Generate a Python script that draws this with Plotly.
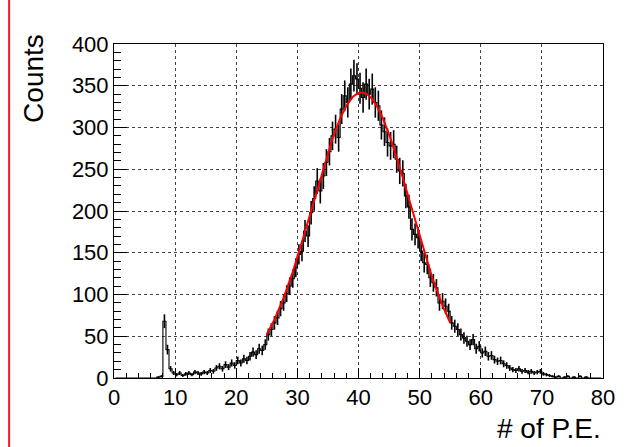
import plotly.graph_objects as go
import numpy as np

# Histogram: bin width 0.5, bins from 0 to 80 (centers)
bin_width = 0.5
bin_centers = [0.25 + 0.5 * i for i in range(160)]
counts = (
    [0] * 14 + [1, 2,                                  # 0.25 .. 7.75
     68, 34, 11, 6, 4, 6, 3, 5, 6, 4, 7, 6, 5, 7,      # 8.25 .. 14.75
     6, 9, 8, 12, 14, 11, 16, 13, 18, 15,              # 15.25 .. 19.75
     21, 18, 23, 21, 26, 31, 28, 35, 33, 40,           # 20.25 .. 24.75
     52, 58, 66, 72, 83, 90, 101, 110, 119, 132,       # 25.25 .. 29.75
     148, 152, 176, 170, 198, 215, 236, 224, 242, 258, # 30.25 .. 34.75
     271, 290, 298, 288, 322, 338, 330, 352, 362, 358, # 35.25 .. 39.75
     347, 336, 352, 340, 346, 330, 326, 303, 295, 282, # 40.25 .. 44.75
     278, 280, 262, 248, 245, 218, 205, 178, 172, 168, # 45.25 .. 49.75
     152, 138, 136, 120, 114, 108, 90, 92, 86, 80,     # 50.25 .. 54.75
     66, 62, 58, 52, 48, 44, 40, 46, 35, 38,           # 55.25 .. 59.75
     30, 32, 26, 27, 22, 20, 21, 17, 15, 12,           # 60.25 .. 64.75
     10, 9, 11, 8, 9, 7, 8, 6, 7, 8,                   # 65.25 .. 69.75
     5, 4, 3, 2, 1, 2, 0, 1, 2, 0,                     # 70.25 .. 74.75
     1, 0, 2, 0, 1, 0, 0, 0, 0, 0]                     # 75.25 .. 79.75
)
errors = [float(np.sqrt(c)) for c in counts]

# Gaussian fit parameters
fit_amp = 342.0
fit_mean = 40.5
fit_sigma = 8.0
fit_range = [25.0, 55.0]

x_ticks = [0, 10, 20, 30, 40, 50, 60, 70, 80]
y_ticks = [0, 50, 100, 150, 200, 250, 300, 350, 400]

x_title = "# of P.E."
y_title = "Counts"

fx = np.linspace(fit_range[0], fit_range[1], 300)
fy = fit_amp * np.exp(-(fx - fit_mean) ** 2 / (2 * fit_sigma ** 2))

FONT = "Liberation Sans, Arial, Helvetica, sans-serif"

fig = go.Figure()
fig.add_trace(go.Scatter(
    x=bin_centers, y=counts, mode="lines", line=dict(color="black", width=1.1, shape="hvh"),
    error_y=dict(type="data", array=errors, visible=True, color="black", thickness=1.6, width=0),
    showlegend=False, hoverinfo="x+y"))
fig.add_trace(go.Scatter(
    x=fx, y=fy, mode="lines", line=dict(color="#ff0000", width=2),
    showlegend=False))

fig.update_layout(
    width=629, height=447,
    margin=dict(l=114, r=26, t=44, b=69),
    paper_bgcolor="white", plot_bgcolor="white",
    font=dict(family=FONT, size=22, color="black"),
    xaxis=dict(range=[0, 80], tickvals=x_ticks, ticks="inside", ticklen=10, tickwidth=1,
               tickcolor="black", showline=True, linecolor="black", linewidth=1, mirror=True,
               showgrid=True, gridcolor="#444444", griddash="dot", gridwidth=1,
               zeroline=False, tickfont=dict(size=22),
               minor=dict(dtick=2, ticks="inside", ticklen=5, tickcolor="black", showgrid=False)),
    yaxis=dict(range=[0, 400], tickvals=y_ticks, ticks="inside", ticklen=13, tickwidth=1,
               tickcolor="black", showline=True, linecolor="black", linewidth=1, mirror=True,
               showgrid=True, gridcolor="#444444", griddash="dot", gridwidth=1,
               zeroline=False, tickfont=dict(size=22),
               minor=dict(dtick=10, ticks="inside", ticklen=7, tickcolor="black", showgrid=False)),
    annotations=[
        dict(text=x_title, xref="paper", yref="paper", x=1.0, y=-0.150, xanchor="right",
             yanchor="middle", showarrow=False, font=dict(size=28, family=FONT)),
        dict(text=y_title, xref="paper", yref="paper", x=-0.166, y=0.898, xanchor="center",
             yanchor="middle", textangle=-90, showarrow=False, font=dict(size=28, family=FONT)),
    ],
    shapes=[
        dict(type="line", xref="paper", yref="paper", x0=-0.2145, x1=-0.2145, y0=-0.3, y1=1.2,
             line=dict(color="#ee1c24", width=2)),
    ],
)

fig.write_html("out.html")
